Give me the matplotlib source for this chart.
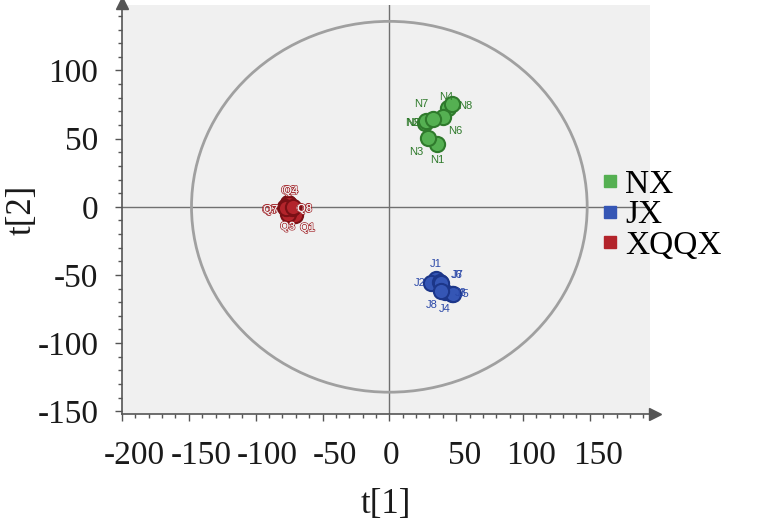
import matplotlib
matplotlib.use('Agg')
import matplotlib.pyplot as plt
import matplotlib.patches as patches
import matplotlib.patheffects as pe
import matplotlib.transforms as mtransforms
from matplotlib.lines import Line2D

plt.rcParams['axes.unicode_minus'] = False

# Score values (t[1], t[2])
nx_names = ['N1', 'N2', 'N3', 'N4', 'N5', 'N6', 'N7', 'N8']
nx_t1 = [35.8, 26.9, 29.1, 44.0, 27.6, 40.3, 32.8, 47.0]
nx_t2 = [46.3, 61.8, 50.7, 72.8, 63.2, 66.2, 64.7, 75.7]

jx_names = ['J1', 'J2', 'J3', 'J4', 'J5', 'J6', 'J7', 'J8']
jx_t1 = [35.0, 31.3, 47.0, 41.8, 47.8, 38.0, 38.8, 38.8]
jx_t2 = [-53.0, -55.9, -64.0, -62.5, -64.0, -55.0, -55.9, -61.8]

xq_names = ['Q1', 'Q2', 'Q3', 'Q4', 'Q5', 'Q6', 'Q7', 'Q8']
xq_t1 = [-70.9, -76.0, -76.0, -75.3, -78.3, -73.1, -77.6, -72.4]
xq_t2 = [-5.9, 3.0, -5.0, 2.2, 0.0, -0.7, -0.7, 0.0]

group_names = ['NX', 'JX', 'XQQX']

# Hotelling T2 ellipse half-axes
ellipse_t1 = 148
ellipse_t2 = 136

x_ticks = [-200, -150, -100, -50, 0, 50, 100, 150]
y_ticks = [-150, -100, -50, 0, 50, 100]

# label offsets in pixels, just so the text sits like in the original
label_offsets = {
    'N1': (0, -16), 'N2': (-13, 0), 'N3': (-12, -14), 'N4': (-2, 11),
    'N5': (-13, -2), 'N6': (12, -14), 'N7': (-12, 15), 'N8': (13, -2),
    'J1': (0, 15), 'J2': (-11, 0), 'J3': (9, 1), 'J4': (-1, -17),
    'J5': (10, 0), 'J6': (17, 7), 'J7': (16, 8), 'J8': (-9, -14),
    'Q1': (13, -13), 'Q2': (1, 12), 'Q3': (0, -13), 'Q4': (2, 13),
    'Q5': (-15, -3), 'Q6': (12, -1), 'Q7': (-15, -2), 'Q8': (12, -2),
}

serif = 'Liberation Serif'
sans = 'Liberation Sans'

fig = plt.figure(figsize=(7.78, 5.29), dpi=100)
ax = fig.add_axes([122 / 778, 1 - 414 / 529, (650 - 122) / 778, (414 - 5) / 529])
ax.set_facecolor('#f0f0f0')
ax.set_xlim(-200, 195)
ax.set_ylim(-152, 148)

# Cross lines through origin
ax.axhline(0, color='#707070', lw=1, zorder=1)
ax.axvline(0, color='#707070', lw=1, zorder=1)

# Ellipse
ell = patches.Ellipse((0, 0), 2 * ellipse_t1, 2 * ellipse_t2, fill=False,
                      edgecolor='#a0a0a0', lw=2, zorder=1)
ax.add_patch(ell)

groups = [
    (nx_names, nx_t1, nx_t2, '#55b052', '#2f7a2c', '#2f7a2c', False),
    (jx_names, jx_t1, jx_t2, '#3556b5', '#1c3689', '#2a48a8', False),
    (xq_names, xq_t1, xq_t2, '#b3242b', '#7a1015', '#a3262b', True),
]
for names, xs, ys, fc, ec, tc, hollow in groups:
    ax.scatter(xs, ys, s=120, color=fc, edgecolors=ec, linewidths=1.5, zorder=3)
    for name, x, y in zip(names, xs, ys):
        t = ax.annotate(name, (x, y), xytext=label_offsets[name], textcoords='offset pixels',
                        ha='center', va='center', fontsize=8, family=sans, color=tc, zorder=4)
        if hollow:
            # the Q labels look outlined in the original
            t.set_color('#f0f0f0')
            t.set_path_effects([pe.withStroke(linewidth=1.2, foreground=tc), pe.Normal()])

# Axes styling
for side in ['top', 'right']:
    ax.spines[side].set_visible(False)
for side in ['left', 'bottom']:
    ax.spines[side].set_color('#555555')
    ax.spines[side].set_linewidth(1.2)
ax.plot(1.01, 0, '>', color='#555555', markersize=8, transform=ax.transAxes, clip_on=False)
ax.plot(0, 1.005, '^', color='#555555', markersize=8, transform=ax.transAxes, clip_on=False)

ax.set_xticks(x_ticks)
ax.set_yticks(y_ticks)
ax.set_xticks(range(-200, 191, 10), minor=True)
ax.set_yticks(range(-150, 141, 10), minor=True)
ax.tick_params(which='major', length=5, width=1, color='#555555', direction='out')
ax.tick_params(which='minor', length=3, width=1, color='#555555', direction='out')
ax.tick_params(axis='x', pad=14)
ax.tick_params(axis='y', pad=12)
for lbl in ax.get_xticklabels() + ax.get_yticklabels():
    lbl.set_fontfamily(serif)
    lbl.set_fontsize(24)
    lbl.set_color('#1a1a1a')

# the x labels sit a little to the right of their ticks in the original
for tick_val, lbl in zip(x_ticks, ax.get_xticklabels()):
    dx = 12 if tick_val < 0 else (2 if tick_val == 0 else 8)
    lbl.set_transform(lbl.get_transform() +
                      mtransforms.ScaledTranslation(dx / 100, 0, fig.dpi_scale_trans))

ax.set_xlabel('t[1]', fontfamily=serif, fontsize=25, labelpad=12, color='#1a1a1a')
ax.set_ylabel('t[2]', fontfamily=serif, fontsize=25, color='#1a1a1a', va='center')
ax.yaxis.set_label_coords(-0.19, 0.5)

# Legend with square swatches
handles = [Line2D([], [], ls='', marker='s', markersize=8, color=c)
           for c in ['#55b052', '#3556b5', '#b3242b']]
fig.legend(handles, group_names, loc='upper left', bbox_to_anchor=(0.756, 0.705),
           frameon=False, handlelength=0.5, handletextpad=0.2, labelspacing=0.0,
           borderaxespad=0, prop={'family': serif, 'size': 24})

fig.savefig('out.png', dpi=100)
